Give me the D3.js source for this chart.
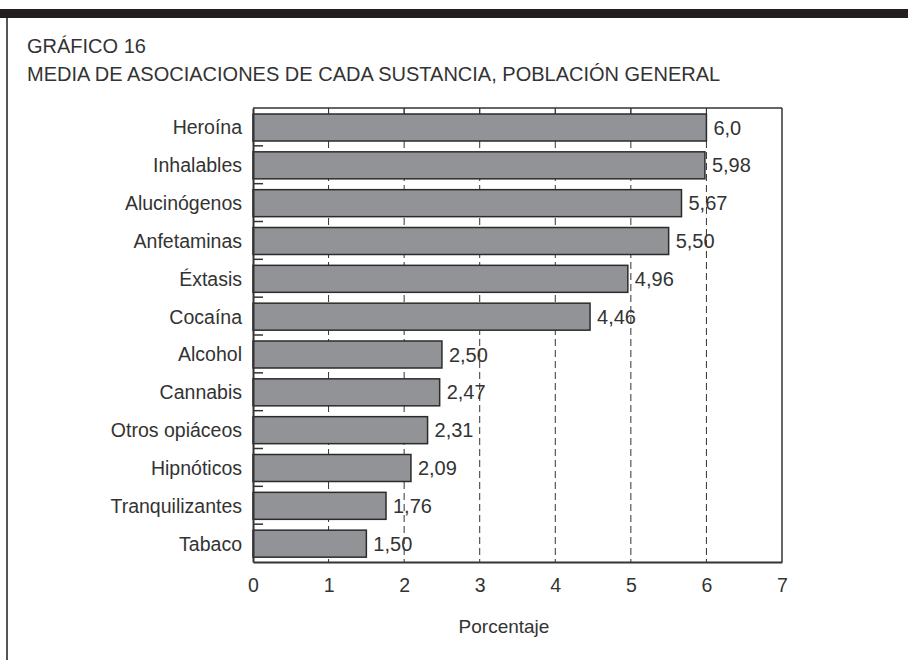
<!DOCTYPE html>
<html>
<head>
<meta charset="utf-8">
<script src="https://cdn.jsdelivr.net/npm/d3@7"></script>
<style>
  body { margin: 0; background: #fff; }
  text { font-family: "Liberation Sans", Arial, sans-serif; fill: #333; }
</style>
</head>
<body>
<script>
// data
var sustancias = ["Heroína", "Inhalables", "Alucinógenos", "Anfetaminas", "Éxtasis", "Cocaína",
                  "Alcohol", "Cannabis", "Otros opiáceos", "Hipnóticos", "Tranquilizantes", "Tabaco"];
var medias = [6.0, 5.98, 5.67, 5.50, 4.96, 4.46, 2.50, 2.47, 2.31, 2.09, 1.76, 1.50];
var etiquetas = ["6,0", "5,98", "5,67", "5,50", "4,96", "4,46", "2,50", "2,47", "2,31", "2,09", "1,76", "1,50"];
var ticks = [0, 1, 2, 3, 4, 5, 6, 7];

var W = 908, H = 660;
var margin = {top: 108, right: 126, bottom: 98, left: 253},
    width = W - margin.left - margin.right,
    height = H - margin.top - margin.bottom;

var svg = d3.select("body").append("svg")
    .attr("width", W)
    .attr("height", H);

// outer frame: dark band on top, thin line on the left
svg.append("rect")
    .attr("x", 0).attr("y", 9).attr("width", W).attr("height", 9)
    .style("fill", "#231f20");
svg.append("line")
    .attr("x1", 7).attr("x2", 7).attr("y1", 18).attr("y2", H)
    .style("stroke", "#555").style("stroke-width", 2);

// titles
svg.append("text")
    .attr("x", 27).attr("y", 53)
    .style("font-size", "20px")
    .text("GRÁFICO 16");
svg.append("text")
    .attr("x", 27).attr("y", 81)
    .style("font-size", "20px")
    .text("MEDIA DE ASOCIACIONES DE CADA SUSTANCIA, POBLACIÓN GENERAL");

var g = svg.append("g")
    .attr("transform", "translate(" + margin.left + "," + margin.top + ")");

var xScale = d3.scaleLinear()
    .domain([0, 7])
    .range([0, width]);

var yScale = d3.scaleBand()
    .domain(sustancias)
    .range([0, height]);

// dashed grid lines
g.selectAll(".grid")
    .data(ticks.slice(1, -1))
    .enter().append("line")
    .attr("class", "grid")
    .attr("x1", function(d) { return xScale(d); })
    .attr("x2", function(d) { return xScale(d); })
    .attr("y1", 0)
    .attr("y2", height)
    .style("stroke", "#333")
    .style("stroke-width", 1)
    .style("stroke-dasharray", "7,4");

// bars
g.selectAll(".bar")
    .data(medias)
    .enter().append("rect")
    .attr("class", "bar")
    .attr("x", xScale(0))
    .attr("y", function(d, i) { return yScale(sustancias[i]) + 6; })
    .attr("width", function(d) { return xScale(d) - xScale(0); })
    .attr("height", 27)
    .style("fill", "#929396")
    .style("stroke", "#2b2b2b")
    .style("stroke-width", 1.5);

// value labels
g.selectAll(".val")
    .data(medias)
    .enter().append("text")
    .attr("class", "val")
    .attr("x", function(d) { return xScale(d) + 7; })
    .attr("y", function(d, i) { return yScale(sustancias[i]) + 6 + 13.5; })
    .attr("dy", "0.35em")
    .style("font-size", "20px")
    .text(function(d, i) { return etiquetas[i]; });

// small inner ticks on the left at band boundaries
g.selectAll(".ltick")
    .data(sustancias.slice(1))
    .enter().append("line")
    .attr("class", "ltick")
    .attr("x1", 0).attr("x2", 10)
    .attr("y1", function(d) { return yScale(d); })
    .attr("y2", function(d) { return yScale(d); })
    .style("stroke", "#333")
    .style("stroke-width", 1.5);

// frame of the plot area (top and right)
g.append("line")
    .attr("x1", 0).attr("x2", width).attr("y1", 0).attr("y2", 0)
    .style("stroke", "#333").style("stroke-width", 1.5);
g.append("line")
    .attr("x1", width).attr("x2", width).attr("y1", 0).attr("y2", height)
    .style("stroke", "#333").style("stroke-width", 1.5);

// top inner ticks
g.selectAll(".ttick")
    .data(ticks.slice(1, -1))
    .enter().append("line")
    .attr("class", "ttick")
    .attr("x1", function(d) { return xScale(d); })
    .attr("x2", function(d) { return xScale(d); })
    .attr("y1", 0).attr("y2", 6)
    .style("stroke", "#333");

// x axis
var xAxis = d3.axisBottom()
    .scale(xScale)
    .tickValues(ticks)
    .tickSize(0)
    .tickPadding(16)
    .tickFormat(d3.format("d"));

var gx = g.append("g")
    .attr("class", "x axis")
    .attr("transform", "translate(0," + height + ")")
    .call(xAxis);
gx.select(".domain").style("stroke", "#333").style("stroke-width", 2);
gx.selectAll("text")
    .style("font-family", "Liberation Sans, Arial, sans-serif")
    .style("font-size", "19.5px")
    .style("fill", "#333");

// y axis
var yAxis = d3.axisLeft()
    .scale(yScale)
    .tickSize(0)
    .tickPadding(11);

var gy = g.append("g")
    .attr("class", "y axis")
    .call(yAxis);
gy.select(".domain").style("stroke", "#333").style("stroke-width", 2);
gy.selectAll("text")
    .attr("dy", "0.38em")
    .style("font-family", "Liberation Sans, Arial, sans-serif")
    .style("font-size", "19.5px")
    .style("fill", "#333");

// text label for the x axis
svg.append("text")
    .attr("x", 504)
    .attr("y", 633)
    .style("text-anchor", "middle")
    .style("font-size", "19px")
    .text("Porcentaje");
</script>
</body>
</html>
